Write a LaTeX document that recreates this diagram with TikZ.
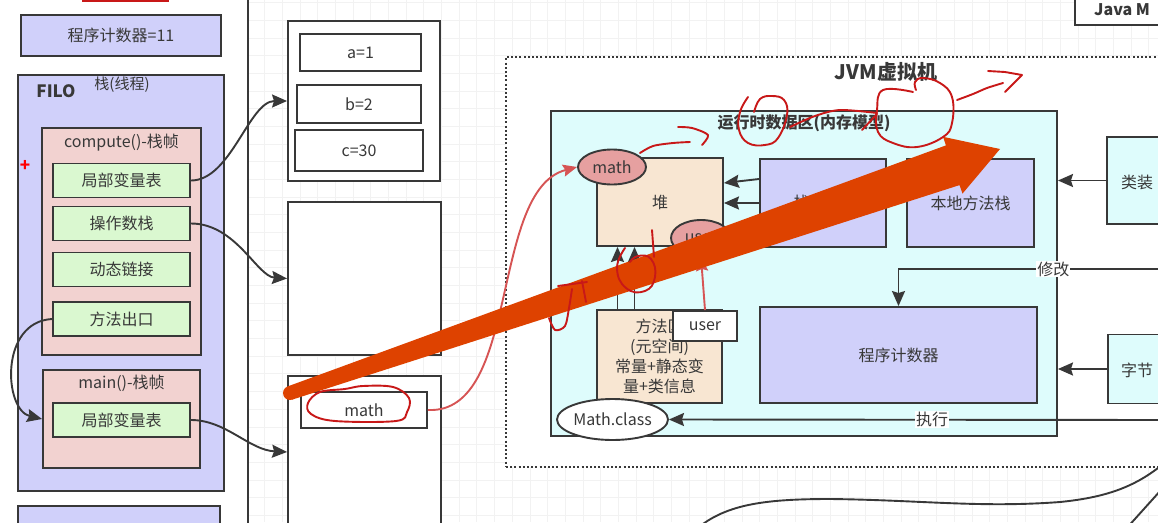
\documentclass[tikz,border=0pt]{standalone}
\usepackage{fontspec}
\setmainfont{Noto Sans CJK SC}
\usetikzlibrary{arrows.meta,shapes.geometric}

\definecolor{ink}{RGB}{56,56,56}
\definecolor{lav}{RGB}{208,208,250}
\definecolor{framepink}{RGB}{242,210,208}
\definecolor{slotgreen}{RGB}{218,248,208}
\definecolor{bisque}{RGB}{248,230,210}
\definecolor{rtcyan}{RGB}{222,252,252}
\definecolor{objpink}{RGB}{230,160,160}
\definecolor{penred}{RGB}{200,24,24}
\definecolor{refred}{RGB}{214,84,84}
\definecolor{markorange}{RGB}{222,66,0}
\definecolor{gridgray}{RGB}{242,242,242}

\tikzset{
  box/.style={draw=ink, line width=1.9pt, rectangle, inner sep=0pt, text=ink,
    font=\fontsize{16}{20}\selectfont, align=center},
  slot/.style={box, fill=slotgreen, minimum width=137pt, minimum height=34pt},
  obj/.style={box, ellipse},
  lbl/.style={inner sep=0pt, text=ink, font=\fontsize{16}{20}\selectfont},
  tag/.style={fill=white, inner sep=1pt, text=ink, font=\fontsize{16}{20}\selectfont},
  link/.style={draw=ink, line width=1.9pt, -{Stealth[length=15pt,width=13pt,inset=2pt]}},
  reflink/.style={draw=refred, line width=1.9pt, -{Stealth[length=14pt,width=12pt,inset=2pt]}},
  pen/.style={draw=penred, line width=1.9pt, line cap=round, line join=round},
  gridline/.style={draw=gridgray, line width=0.8pt},
}

\begin{document}
\begin{tikzpicture}[x=1pt, y=-1pt]
  \useasboundingbox (0,0) rectangle (1158,522);
  % canvas grid
  \foreach \i in {0,...,65} \draw[gridline] ({17.2+17.68*\i},0) -- ++(0,522);
  \foreach \j in {0,...,29} \draw[gridline] (0,{2.6+17.68*\j}) -- ++(1158,0);

  % thread side
  \node[box, fill=white, minimum width=268pt, minimum height=560pt] (threadpane) at (114,261) {};
  \node[box, draw=penred, fill=white, minimum width=85pt, minimum height=40pt] (topmark) at (125.5,-19) {};
  \node[box, fill=lav, minimum width=200pt, minimum height=41pt] (pcount) at (121,35.5) {程序计数器=11};
  \node[box, fill=lav, minimum width=206pt, minimum height=416pt] (thread) at (121,283) {};
  \node[lbl, font=\bfseries\fontsize{17}{20}\selectfont] (filo) at (56,91) {FILO};
  \node[lbl, font=\fontsize{15}{18}\selectfont] (threadlabel) at (122,85) {栈(线程)};
  \node[box, fill=framepink, minimum width=159pt, minimum height=227pt] (fcompute) at (121.5,241.5) {};
  \node[lbl] (fcomputelabel) at (121.5,143) {compute()-栈帧};
  \node[lbl, text=red, font=\bfseries\fontsize{17}{20}\selectfont] (plus) at (25,166) {+};
  \node[slot] (locals) at (121.5,180.5) {局部变量表};
  \node[slot] (opstack) at (121.5,223.5) {操作数栈};
  \node[slot] (dynlink) at (121.5,269.5) {动态链接};
  \node[slot] (exit) at (121.5,319) {方法出口};
  \node[box, fill=framepink, minimum width=157pt, minimum height=98pt] (fmain) at (121.5,419) {};
  \node[lbl] (fmainlabel) at (121.5,383) {main()-栈帧};
  \node[slot] (mainlocals) at (121.5,420) {局部变量表};
  \node[box, fill=lav, minimum width=202pt, minimum height=40pt] (nextthread) at (119,526) {};

  % heap objects
  \node[box, fill=white, minimum width=152pt, minimum height=160pt] (frameA) at (364,101) {};
  \node[box, fill=white, minimum width=121pt, minimum height=37pt] (va) at (360.5,52.5) {a=1};
  \node[box, fill=white, minimum width=124pt, minimum height=38pt] (vb) at (359,104) {b=2};
  \node[box, fill=white, minimum width=128pt, minimum height=41pt] (vc) at (359,150.5) {c=30};
  \node[box, fill=white, minimum width=153pt, minimum height=153pt] (frameB) at (364.5,278.5) {};
  \node[box, fill=white, minimum width=153pt, minimum height=164pt] (frameC) at (364.5,458) {};
  \node[box, fill=white, minimum width=126pt, minimum height=36pt] (vmath) at (364,410) {math};

  \draw[link] (locals.east) .. controls +(40,0) and +(-38,0) .. (frameA.west);
  \draw[link] (opstack.east) .. controls +(45,0) and +(-30,-2) .. (frameB.west);
  \draw[link] (exit.west) .. controls +(-53,3) and +(-38,-9) .. (fmain.west);
  \draw[link] (mainlocals.east) .. controls +(35,0) and +(-38,-2) .. ([yshift=6pt]frameC.west);

  % jvm
  \node[box, fill=white, dash pattern=on 2pt off 2.2pt, minimum width=670pt, minimum height=410pt] (jvm) at (841,262) {};
  \node[lbl, font=\bfseries\fontsize{20}{24}\selectfont] (jvmlabel) at (886,72) {JVM虚拟机};
  \node[box, fill=white, minimum width=105pt, minimum height=45pt] (javam) at (1127.5,2.5) {};
  \node[lbl, anchor=base west, font=\bfseries\fontsize{16}{20}\selectfont] (javamlabel) at (1094,16) {Java M};

  \node[box, fill=rtcyan, minimum width=506pt, minimum height=325pt] (rt) at (804,273.5) {};
  \node[lbl, font=\bfseries\fontsize{16}{20}\selectfont] (rtlabel) at (804,123) {运行时数据区(内存模型)};
  \node[box, fill=bisque, minimum width=126pt, minimum height=88pt] (heap) at (660,202) {堆};
  \node[box, fill=lav, minimum width=126pt, minimum height=88pt] (stk) at (823,203) {栈(线程)};
  \node[box, fill=lav, minimum width=127pt, minimum height=88pt] (native) at (970.5,203) {本地方法栈};
  \node[box, fill=bisque, minimum width=125pt, minimum height=93pt] (marea) at (659.5,356.5) {方法区\\(元空间)\\常量+静态变\\量+类信息};
  \node[box, fill=lav, minimum width=277pt, minimum height=96pt] (pcr) at (898.5,355) {程序计数器};
  \node[box, fill=rtcyan, minimum width=80pt, minimum height=87pt] (loader) at (1147,180.5) {};
  \node[lbl, anchor=west] (loaderlabel) at (1121,182) {类装};
  \node[box, fill=rtcyan, minimum width=80pt, minimum height=69pt] (engine) at (1148,369) {};
  \node[lbl, anchor=west] (enginelabel) at (1121,370) {字节};

  \draw[link] (loader.west) -- (loader.west -| rt.east);
  \draw[link] (engine.west) -- (engine.west -| rt.east);
  \coordinate (modsrc) at (1175,269);
  \draw[link] (modsrc) -| (pcr.north) node[tag, pos=0.22] (modlabel) {修改};
  \draw[link] ([yshift=24pt]stk.west) -- ([yshift=19pt]heap.east);
  \draw[link] (stk.west) -- (stk.west -| heap.east);
  \draw[link] ([xshift=-42pt]marea.north) -- ([xshift=-42pt]marea.north |- heap.south);
  \draw[link] ([xshift=-25pt]marea.north) -- ([xshift=-25pt]marea.north |- heap.south);

  \node[obj, fill=objpink, minimum width=68pt, minimum height=35pt] (emath) at (612,167) {math};
  \node[obj, fill=objpink, minimum width=60pt, minimum height=36pt] (euser) at (701,238) {user};
  \node[box, fill=white, minimum width=64pt, minimum height=30pt] (ubox) at (705,326) {user};
  \node[obj, fill=white, minimum width=111pt, minimum height=41pt] (mclass) at (612.5,419.5) {Math.class};
  \coordinate (execsrc) at (1175,420);
  \draw[link] (execsrc) -- (mclass.east) node[tag, pos=0.48] (execlabel) {执行};

  \draw[reflink] (ubox.north) -- (euser.south);
  \draw[reflink] (vmath.east) .. controls +(93,4) and +(-88,23) .. (emath.west);

  % wires under the jvm
  \coordinate (wireA) at (690,535);
  \coordinate (wireB) at (1170,458);
  \coordinate (wireC) at (1125,530);
  \coordinate (wireD) at (1170,480);
  \draw[ink, line width=1.9pt] (wireA) .. controls (720,505) and (760,499) .. (830,499)
    .. controls (920,500) and (980,508) .. (1060,502) .. controls (1110,497) and (1140,485) .. (wireB);
  \draw[ink, line width=1.9pt] (wireC) -- (wireD);

  % marker arrow
  \fill[markorange] (287.7,386.4) -- (945.9,145.4) -- (943,136.8) -- (1000,149)
    -- (962.5,193.6) -- (959.5,185.1) -- (292.3,399.6) -- cycle;
  \fill[markorange] (290,393) circle[radius=7pt];

  % pen marks
  \draw[pen] plot[smooth cycle, tension=0.6] coordinates {(308,403) (320,392) (345,389) (363,386) (393,387) (409,398) (407,412) (396,421) (335,421) (311,414)};
  \draw[pen] plot[smooth, tension=0.7] coordinates {(748,97) (740,112) (739,130) (748,143) (765,145) (778,138) (787,115) (784,100) (772,96) (760,99) (754,112)};
  \draw[pen] plot[smooth] coordinates {(790,127) (815,116) (840,110) (877,113)};
  \draw[pen] (862,130) -- (877,114);
  \draw[pen] plot[smooth, tension=0.7] coordinates {(913,92) (883,90) (877,110) (878,132) (893,143) (917,147) (943,137) (952,123) (952,97) (940,83) (923,78) (915,82) (916,90)};
  \draw[pen] plot[smooth] coordinates {(957,100) (973,94) (987,88) (1003,83)};
  \draw[pen] (988,71) -- (1005,72) -- (1022,75) -- (1005,92);
  \draw[pen] plot[smooth] coordinates {(640,153) (653,146) (673,143) (690,142)};
  \draw[pen] plot[smooth] coordinates {(678,127) (692,128) (708,135) (702,145)};
  \draw[pen] (652,230) -- (654,257);
  \draw[pen] plot[smooth, tension=0.8] coordinates {(625,248) (617,268) (626,288) (645,291) (655,277) (651,259) (638,256) (630,262)};
  \draw[pen] (558,286) -- (587,282);
  \draw[pen] plot[smooth] coordinates {(572,289) (569,308) (565,326) (555,330) (549,318)};
  \draw[pen] (582,281) -- (586,302);
\end{tikzpicture}
\end{document}
